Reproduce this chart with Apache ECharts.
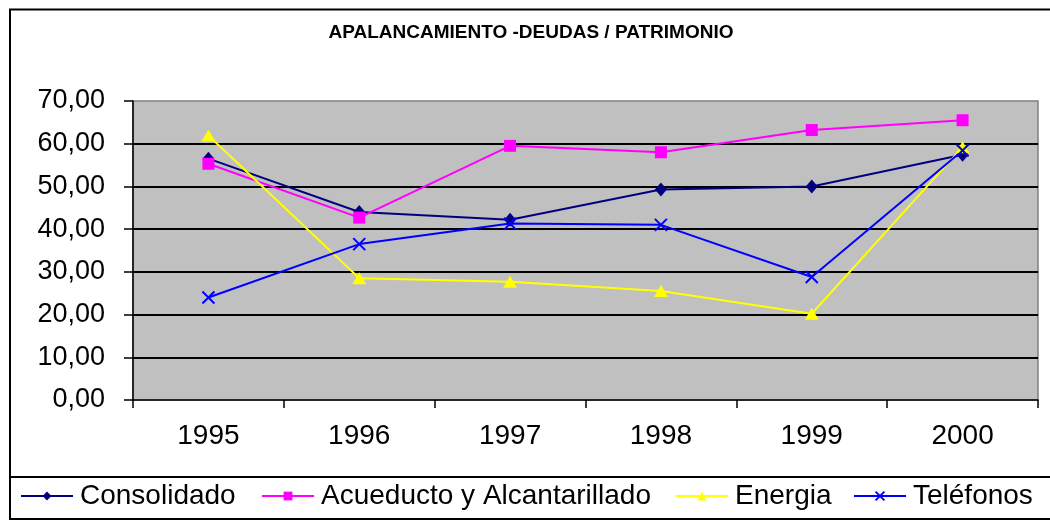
<!DOCTYPE html>
<html>
<head>
<meta charset="utf-8">
<script src="https://cdn.jsdelivr.net/npm/echarts@6/dist/echarts.min.js"></script>
<style>
html,body{margin:0;padding:0;background:#fff;}
#chart{width:1050px;height:522px;}
</style>
</head>
<body>
<div id="chart"></div>
<script>
var titleText = 'APALANCAMIENTO -DEUDAS / PATRIMONIO';
var years = ['1995','1996','1997','1998','1999','2000'];
var consolidado = [56.5, 44.0, 42.2, 49.3, 50.0, 57.4];
var acueducto = [55.3, 42.7, 59.5, 58.0, 63.2, 65.5];
var energia = [61.9, 28.5, 27.7, 25.5, 20.2, 59.2];
var telefonos = [24.0, 36.5, 41.3, 41.0, 28.8, 58.4];
var seriesNames = ['Consolidado', 'Acueducto y Alcantarillado', 'Energia', 'Teléfonos'];
var yTicks = {min: 0, max: 70, interval: 10};

var FONT = '"Liberation Sans", Arial, sans-serif';
var chart = echarts.init(document.getElementById('chart'), null, {renderer: 'canvas'});

var xPath = 'path://M0,0L10,10M10,0L0,10';

function legendAt(name, left) {
  return {
    data: [name],
    left: left,
    top: 482,
    padding: 0,
    itemWidth: 52,
    itemHeight: 11,
    itemGap: 0,
    selectedMode: false,
    textStyle: {fontFamily: FONT, fontSize: 28, color: '#000', padding: [0, 0, 0, 2]}
  };
}

var option = {
  backgroundColor: '#ffffff',
  animation: false,
  grid: {
    left: 133, top: 101, right: 12, bottom: 122,
    show: true, backgroundColor: '#c0c0c0', borderColor: '#808080', borderWidth: 1.5
  },
  legend: [
    legendAt(seriesNames[0], 20),
    legendAt(seriesNames[1], 261),
    legendAt(seriesNames[2], 675),
    legendAt(seriesNames[3], 853)
  ],
  xAxis: {
    type: 'category',
    data: years,
    boundaryGap: true,
    axisLine: {show: true, lineStyle: {color: '#000', width: 1.5}},
    axisTick: {show: true, length: 8, lineStyle: {color: '#000', width: 1.5}},
    axisLabel: {fontFamily: FONT, fontSize: 28, color: '#000', margin: 22},
    splitLine: {show: false}
  },
  yAxis: {
    type: 'value',
    min: yTicks.min, max: yTicks.max, interval: yTicks.interval,
    axisLine: {show: true, lineStyle: {color: '#000', width: 1.5}},
    axisTick: {show: true, length: 9, lineStyle: {color: '#000', width: 1.5}},
    axisLabel: {
      fontFamily: FONT, fontSize: 27, color: '#000', margin: 28,
      formatter: function (v) { return v.toFixed(2).replace('.', ','); }
    },
    splitLine: {show: true, showMaxLine: false, showMinLine: false, lineStyle: {color: '#000', width: 1.8}}
  },
  series: [
    {
      name: seriesNames[0], type: 'line', data: consolidado,
      symbol: 'diamond', symbolSize: [12, 14],
      lineStyle: {color: '#000080', width: 2},
      itemStyle: {color: '#000080'}
    },
    {
      name: seriesNames[1], type: 'line', data: acueducto,
      symbol: 'rect', symbolSize: 12,
      lineStyle: {color: '#ff00ff', width: 2},
      itemStyle: {color: '#ff00ff'}
    },
    {
      name: seriesNames[2], type: 'line', data: energia,
      symbol: 'triangle', symbolSize: [14, 12],
      lineStyle: {color: '#ffff00', width: 2},
      itemStyle: {color: '#ffff00'}
    },
    {
      name: seriesNames[3], type: 'line', data: telefonos,
      symbol: xPath, symbolSize: 12,
      lineStyle: {color: '#0000ff', width: 2},
      itemStyle: {color: 'none', borderColor: '#0000ff', borderWidth: 2}
    }
  ],
  graphic: [
    {
      type: 'rect', silent: true, z: 100,
      shape: {x: 10, y: 9.5, width: 1100, height: 509.5},
      style: {fill: 'none', stroke: '#000', lineWidth: 2}
    },
    {
      type: 'line', silent: true, z: 100,
      shape: {x1: 10, y1: 477, x2: 1100, y2: 477},
      style: {stroke: '#000', lineWidth: 2}
    },
    {
      type: 'text', silent: true, z: 100,
      x: 531, y: 33,
      style: {
        text: titleText, fill: '#000',
        font: 'bold 19px ' + FONT,
        textAlign: 'center', textVerticalAlign: 'middle'
      }
    }
  ]
};
chart.setOption(option);
</script>
</body>
</html>
